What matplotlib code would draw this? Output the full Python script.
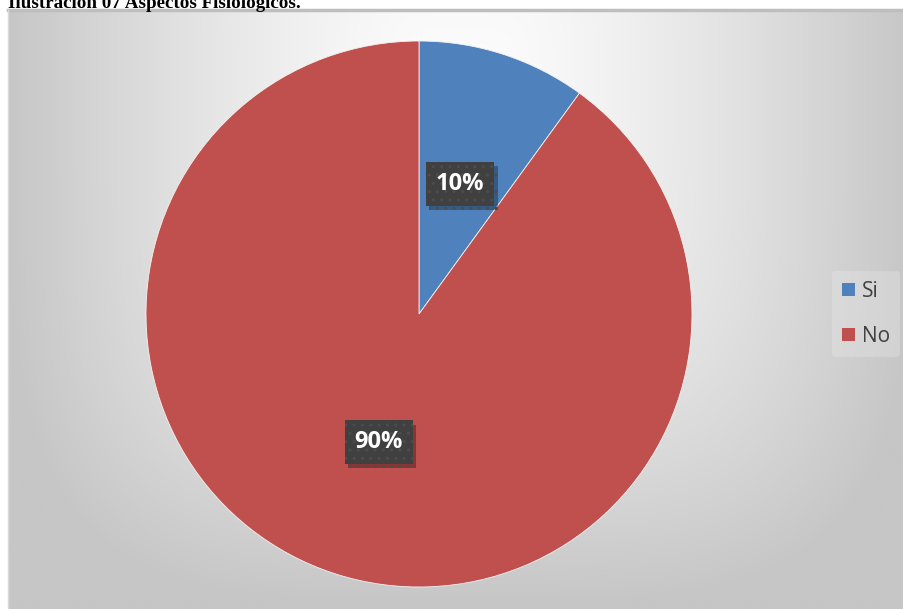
import numpy as np
import matplotlib.pyplot as plt
from matplotlib import patheffects as pe

# datos de la encuesta
categorias = ['Si', 'No']
porcentajes = [10, 90]
colores = ['#4F81BD', '#C0504D']
titulo = 'Ilustración 07 Aspectos Fisiológicos.'

W, H = 904, 609
fig = plt.figure(figsize=(W / 100, H / 100), dpi=100)
fig.patch.set_facecolor('white')

# fondo del area del grafico con degradado
bg = fig.add_axes([8 / W, 0, (W - 8) / W, (H - 10) / H])
bg.set_axis_off()
xs = np.linspace(8, W, 400)
ys = np.linspace(10, H, 300)
X, Y = np.meshgrid(xs, ys)
dx = np.abs(X - 460) / 455
dy = np.abs(Y - 90) / 515
t = np.clip((dx ** 4 + dy ** 4) ** 0.25, 0, 1)
grad = 253 - 55 * t ** 1.4
img = np.dstack([grad, grad, grad]) / 255.0
bg.imshow(img, extent=[0, 1, 0, 1], aspect='auto', origin='upper')
bg.set_xlim(0, 1)
bg.set_ylim(0, 1)
bg.plot([0, 1], [1, 1], color='#BEBEBE', lw=2.5, clip_on=False)
bg.plot([0, 0], [0, 1], color='#D9D9D9', lw=1, clip_on=False)

# titulo (cortado por el borde superior)
fig.text(8 / W, 1 - 8 / H, titulo, family='Liberation Serif', fontweight='bold',
         fontsize=13.7, color='black', va='baseline', ha='left')

# grafico circular
cx, cy, r = 419, 314, 273
ax = fig.add_axes([(cx - r) / W, (H - cy - r) / H, 2 * r / W, 2 * r / H])
ax.set_axis_off()
wedges, _ = ax.pie(porcentajes, colors=colores, startangle=90, counterclock=False,
                   radius=1, wedgeprops=dict(edgecolor='#F2F2F2', linewidth=0.6))
ax.set_xlim(-1, 1)
ax.set_ylim(-1, 1)

# etiquetas de porcentaje
posiciones = [(0.15, 0.476), (-0.147, -0.47)]
for p, (lx, ly) in zip(porcentajes, posiciones):
    txt = ax.text(lx, ly, f'{p}%', ha='center', va='center', color='white',
                  fontsize=17, fontweight='bold', family='Open Sans',
                  bbox=dict(boxstyle='square,pad=0.42', facecolor='#404040',
                            edgecolor='#4C4C4C', linewidth=0, hatch='..'))
    txt.get_bbox_patch().set_path_effects([
        pe.SimplePatchShadow(offset=(2.5, -3), shadow_rgbFace='black', alpha=0.3),
        pe.Normal()])

# leyenda
leg = fig.legend(wedges, categorias, loc='center left',
                 bbox_to_anchor=(832 / W, 1 - 314 / H),
                 prop={'family': 'Open Sans', 'size': 15}, frameon=True,
                 handlelength=0.62, handleheight=0.62, handletextpad=0.3,
                 labelspacing=1.15, borderpad=0.5, borderaxespad=0)
leg.get_frame().set_facecolor('#E8E8E8')
leg.get_frame().set_edgecolor('none')
leg.get_frame().set_alpha(0.35)
for tx in leg.get_texts():
    tx.set_color('#404040')
for h in leg.legend_handles:
    h.set_edgecolor('none')

fig.savefig('out.png', dpi=100)
